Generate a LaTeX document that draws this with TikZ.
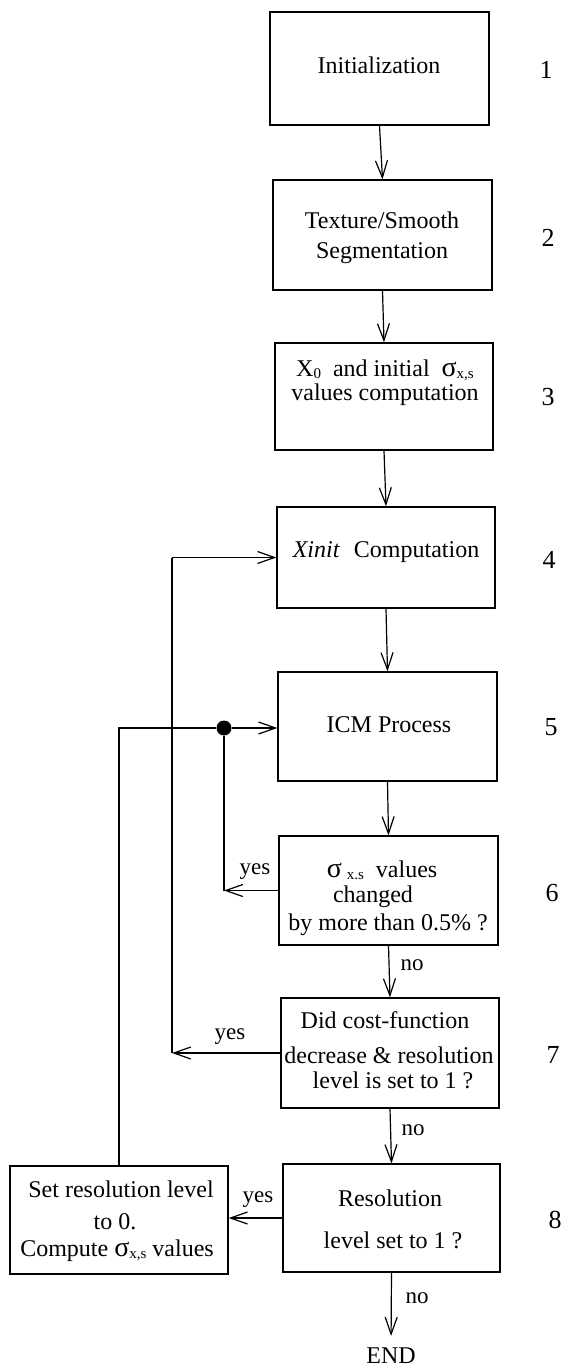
\documentclass[tikz,border=0pt]{standalone}
\usepackage{fontspec}
\setmainfont{Liberation Serif}
\usetikzlibrary{arrows.meta}
\newcommand{\smallsub}[1]{\raisebox{-0.2ex}{\fontsize{15}{15}\selectfont #1}}
\newcommand{\bigsig}{{\fontsize{28}{28}\selectfont σ}}
\newcommand{\sxs}{\bigsig\smallsub{x,s}}
\begin{document}
\begin{tikzpicture}[x=1pt,y=-1pt,
  font=\fontsize{24}{29}\selectfont,
  bx/.style n args={2}{draw, line width=1.4pt, minimum width=#1pt, minimum height=#2pt, inner sep=0pt},
  tx/.style={inner sep=0pt},
  num/.style={inner sep=0pt, font=\fontsize{26}{30}\selectfont},
  lbl/.style={inner sep=0pt, font=\fontsize{23}{27}\selectfont},
  ln/.style={line width=1.2pt},
  ar/.style={line width=1.2pt, -{Straight Barb[length=17pt,width=12pt,line width=1.2pt]}},
  dotn/.style={circle, fill, inner sep=0pt, minimum size=15pt}]
\useasboundingbox (0,0) rectangle (565,1369);
% boxes
\node[bx={219}{113}] (b1) at (379.5,68.5) {};
\node[bx={219}{110}] (b2) at (382.5,235) {};
\node[bx={218}{107}] (b3) at (384,396.5) {};
\node[bx={218}{101}] (b4) at (386,557.5) {};
\node[bx={219}{109}] (b5) at (387.5,726.5) {};
\node[bx={219}{109}] (b6) at (388.5,890.5) {};
\node[bx={218}{110}] (b7) at (390,1053) {};
\node[bx={217}{108}] (b8) at (391.5,1218) {};
\node[bx={218}{108}] (lb) at (119,1220) {};
% texts
\node[tx] (t1) at (379,65) {Initialization};
\node[tx] (t2a) at (382,220) {Texture/Smooth};
\node[tx] (t2b) at (382,253) {Segmentation};
\node[tx] (t3a) at (385,370) {X\smallsub{0}\hspace{12pt}and initial\hspace{12pt}\sxs};
\node[tx] (t3b) at (385,395) {values computation};
\node[tx] (t4) at (386,552) {\textit{Xinit}\hspace{14pt}Computation};
\node[tx] (t5) at (389,725) {ICM Process};
\node[tx] (t6a) at (382,870) {\bigsig\hspace{5pt}\smallsub{x.s}\hspace{12pt}values};
\node[tx] (t6b) at (373,897) {changed};
\node[tx] (t6c) at (388,925) {by more than 0.5\% ?};
\node[tx] (t7a) at (385,1020) {Did cost-function};
\node[tx] (t7b) at (389,1055) {decrease \& resolution};
\node[tx] (t7c) at (393,1080) {level is set to 1 ?};
\node[tx] (t8a) at (390,1198) {Resolution};
\node[tx] (t8b) at (393,1240) {level set to 1 ?};
\node[tx] (tla) at (121,1189) {Set resolution level};
\node[tx] (tlb) at (115,1222) {to 0.};
\node[tx] (tlc) at (117,1251) {Compute\hspace{6pt}\sxs\ values};
\node[tx] (endn) at (391,1356) {END};
% numbers
\node[num] (n1) at (546,70) {1};
\node[num] (n2) at (548,238) {2};
\node[num] (n3) at (548,397) {3};
\node[num] (n4) at (549,560) {4};
\node[num] (n5) at (551,727) {5};
\node[num] (n6) at (552,893) {6};
\node[num] (n7) at (553,1055) {7};
\node[num] (n8) at (555,1220) {8};
% main flow
\draw[ar] (b1.south) -- (b2.north);
\draw[ar] (b2.south) -- (b3.north);
\draw[ar] (b3.south) -- (b4.north);
\draw[ar] (b4.south) -- (b5.north);
\draw[ar] (b5.south) -- (b6.north);
\draw[ar] (b6.south) -- (b7.north);
\draw[ar] (b7.south) -- (b8.north);
\draw[ar, shorten >=12pt] (b8.south) -- (endn.north);
\node[lbl] (no6) at (412,965) {no};
\node[lbl] (no7) at (413,1130) {no};
\node[lbl] (no8) at (417,1298) {no};
% loop from box 6
\node[dotn] (dot) at (224,728) {};
\draw[ar] (b6.west) -- (b6.west -| dot);
\draw[ln] (b6.west -| dot) -- (dot);
\draw[ar] (dot) -- (dot -| b5.west);
\node[lbl] (yes6) at (255,872) {yes};
% loop from box 7
\coordinate (c7) at (172,0);
\draw[ar] (b7.west) -- (b7.west -| c7);
\draw[ln] (b7.west -| c7) -- (b4.west -| c7);
\draw[ar] (b4.west -| c7) -- (b4.west);
\node[lbl] (yes7) at (230,1037) {yes};
% box 8 yes
\draw[ar] (b8.west) -- (b8.west -| lb.east);
\node[lbl] (yes8) at (258,1200) {yes};
\draw[ln] (lb.north) -- (lb.north |- dot) -- (dot);
\end{tikzpicture}
\end{document}
